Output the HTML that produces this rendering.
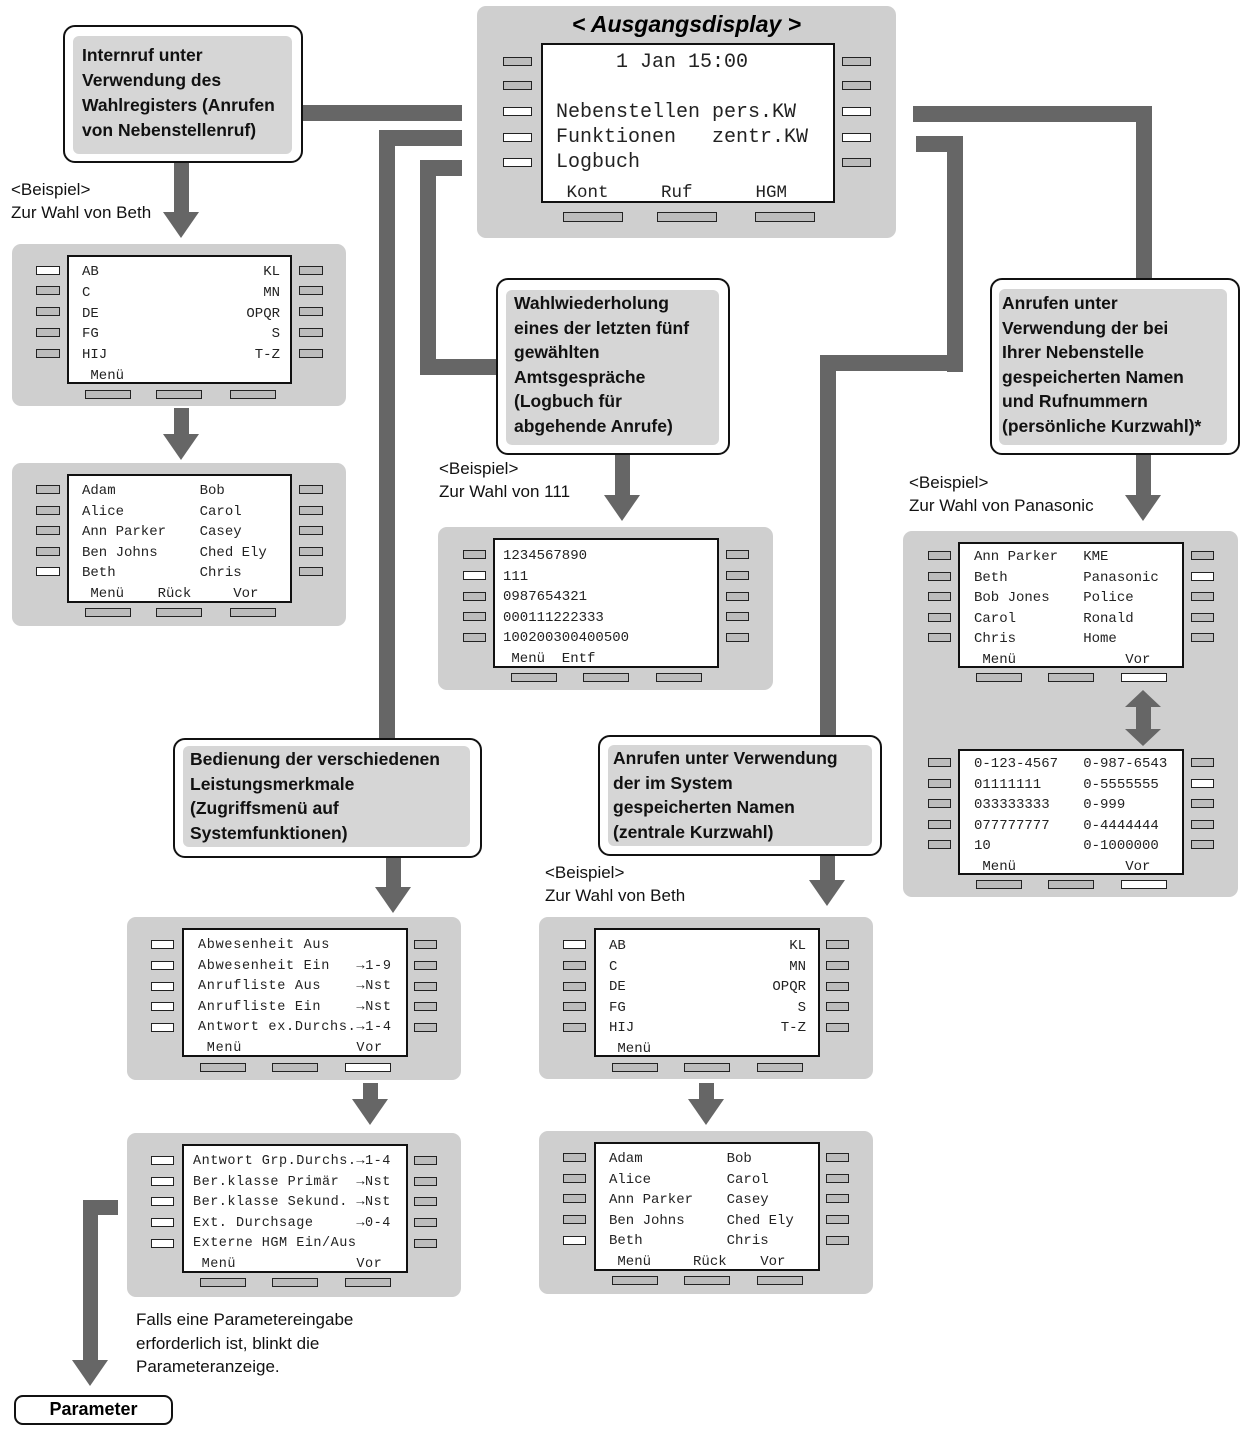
<!DOCTYPE html>
<html><head><meta charset="utf-8"><style>
body{margin:0;width:1245px;height:1440px;background:#fff;position:relative;overflow:hidden;font-family:"Liberation Sans",Arial,sans-serif}
div{position:absolute;box-sizing:border-box}
.c{background:#666}
.p{background:#cfcfcf;border-radius:9px}
.s{background:#fff;border:2px solid #111}
.b{height:9px;border:1.5px solid #222;background:#bcbcbc}
.w{background:#fff}
.t{font-family:"Liberation Mono","Courier New",monospace;font-size:14px;line-height:16px;white-space:pre;color:#222}
.ob{border:2px solid #111;border-radius:12px;background:#fff}
.ib{background:#d6d6d6;border-radius:6px}
.bt{font-weight:bold;font-size:17.5px;line-height:24.5px;color:#111;white-space:pre}
.lb{font-size:17px;line-height:23px;white-space:pre;color:#111}
.tri{width:0;height:0;border-left:18px solid transparent;border-right:18px solid transparent;border-top:26px solid #666}
</style></head><body>

<!-- connectors -->
<div class="c" style="left:302px;top:105px;width:160px;height:16px"></div>
<div class="c" style="left:379px;top:130px;width:83px;height:16px"></div>
<div class="c" style="left:379px;top:130px;width:16px;height:610px"></div>
<div class="c" style="left:420px;top:160px;width:42px;height:16px"></div>
<div class="c" style="left:420px;top:160px;width:16px;height:215px"></div>
<div class="c" style="left:420px;top:359px;width:78px;height:16px"></div>
<div class="c" style="left:913px;top:106px;width:239px;height:16px"></div>
<div class="c" style="left:1136px;top:106px;width:16px;height:172px"></div>
<div class="c" style="left:916px;top:136px;width:47px;height:16px"></div>
<div class="c" style="left:947px;top:136px;width:16px;height:236px"></div>
<div class="c" style="left:820px;top:355px;width:143px;height:16px"></div>
<div class="c" style="left:820px;top:355px;width:16px;height:382px"></div>

<!-- arrows -->
<div class="c" style="left:174px;top:163px;width:15px;height:50px"></div>
<div class="tri" style="left:163px;top:212px"></div>
<div class="c" style="left:174px;top:408px;width:15px;height:28px"></div>
<div class="tri" style="left:163px;top:434px"></div>
<div class="c" style="left:615px;top:455px;width:15px;height:42px"></div>
<div class="tri" style="left:604px;top:495px"></div>
<div class="c" style="left:1136px;top:455px;width:15px;height:42px"></div>
<div class="tri" style="left:1125px;top:495px"></div>
<div class="c" style="left:386px;top:857px;width:15px;height:32px"></div>
<div class="tri" style="left:375px;top:887px"></div>
<div class="c" style="left:363px;top:1083px;width:15px;height:18px"></div>
<div class="tri" style="left:352px;top:1099px"></div>
<div class="c" style="left:820px;top:855px;width:15px;height:26px"></div>
<div class="tri" style="left:809px;top:880px"></div>
<div class="c" style="left:699px;top:1083px;width:15px;height:18px"></div>
<div class="tri" style="left:688px;top:1099px"></div>
<div class="c" style="left:83px;top:1200px;width:35px;height:15px"></div>
<div class="c" style="left:83px;top:1200px;width:15px;height:162px"></div>
<div class="tri" style="left:72px;top:1360px"></div>

<!-- callout boxes -->
<div class="ob" style="left:63px;top:25px;width:240px;height:138px"></div>
<div class="ib" style="left:73px;top:36px;width:219px;height:118px"></div>
<div class="bt" style="left:82px;top:43px;line-height:25px">Internruf unter
Verwendung des
Wahlregisters (Anrufen
von Nebenstellenruf)</div>

<div class="ob" style="left:496px;top:278px;width:234px;height:177px"></div>
<div class="ib" style="left:506px;top:290px;width:213px;height:155px"></div>
<div class="bt" style="left:514px;top:291px">Wahlwiederholung
eines der letzten fünf
gewählten
Amtsgespräche
(Logbuch für
abgehende Anrufe)</div>

<div class="ob" style="left:990px;top:278px;width:250px;height:177px"></div>
<div class="ib" style="left:999px;top:289px;width:228px;height:156px"></div>
<div class="bt" style="left:1002px;top:291px">Anrufen unter
Verwendung der bei
Ihrer Nebenstelle
gespeicherten Namen
und Rufnummern
(persönliche Kurzwahl)*</div>

<div class="ob" style="left:173px;top:738px;width:309px;height:120px"></div>
<div class="ib" style="left:183px;top:746px;width:287px;height:101px"></div>
<div class="bt" style="left:190px;top:747px">Bedienung der verschiedenen
Leistungsmerkmale
(Zugriffsmenü auf
Systemfunktionen)</div>

<div class="ob" style="left:598px;top:735px;width:284px;height:121px"></div>
<div class="ib" style="left:608px;top:745px;width:264px;height:101px"></div>
<div class="bt" style="left:613px;top:746px">Anrufen unter Verwendung
der im System
gespeicherten Namen
(zentrale Kurzwahl)</div>

<div class="ob" style="left:14px;top:1395px;width:159px;height:30px;border-radius:9px"></div>
<div style="left:14px;top:1398px;width:159px;text-align:center;font-weight:bold;font-size:18px;line-height:22px">Parameter</div>

<!-- labels -->
<div class="lb" style="left:11px;top:178px">&lt;Beispiel&gt;
Zur Wahl von Beth</div>
<div class="lb" style="left:439px;top:457px">&lt;Beispiel&gt;
Zur Wahl von 111</div>
<div class="lb" style="left:909px;top:471px">&lt;Beispiel&gt;
Zur Wahl von Panasonic</div>
<div class="lb" style="left:545px;top:861px">&lt;Beispiel&gt;
Zur Wahl von Beth</div>
<div class="lb" style="left:136px;top:1308px;font-size:17px;line-height:23.5px">Falls eine Parametereingabe
erforderlich ist, blinkt die
Parameteranzeige.</div>

<!-- main display -->
<div class="p" style="left:477px;top:6px;width:419px;height:232px"></div>
<div style="left:477px;top:10px;width:419px;text-align:center;font-weight:bold;font-style:italic;font-size:23px;line-height:28px">&lt; Ausgangsdisplay &gt;</div>
<div class="s" style="left:541px;top:43px;width:294px;height:160px"></div>
<div class="b" style="left:503px;top:57px;width:29px"></div>
<div class="b" style="left:503px;top:81px;width:29px"></div>
<div class="b w" style="left:503px;top:107px;width:29px"></div>
<div class="b w" style="left:503px;top:133px;width:29px"></div>
<div class="b w" style="left:503px;top:158px;width:29px"></div>
<div class="b" style="left:842px;top:57px;width:29px"></div>
<div class="b" style="left:842px;top:81px;width:29px"></div>
<div class="b w" style="left:842px;top:107px;width:29px"></div>
<div class="b w" style="left:842px;top:133px;width:29px"></div>
<div class="b" style="left:842px;top:158px;width:29px"></div>
<div class="b" style="left:563px;top:212px;width:60px;height:10px"></div>
<div class="b" style="left:657px;top:212px;width:60px;height:10px"></div>
<div class="b" style="left:755px;top:212px;width:60px;height:10px"></div>
<div class="t" style="left:556px;top:50px;font-size:20px;line-height:25px">     1 Jan 15:00

Nebenstellen pers.KW
Funktionen   zentr.KW
Logbuch</div>
<div class="t" style="left:556px;top:182px;font-size:17.5px;line-height:22px"> Kont     Ruf      HGM</div>

<!-- P1 -->
<div class="p" style="left:12px;top:244px;width:334px;height:162px"></div>
<div class="s" style="left:67px;top:255px;width:225px;height:129px"></div>
<div class="b w" style="left:36px;top:266px;width:24px"></div>
<div class="b" style="left:36px;top:286px;width:24px"></div>
<div class="b" style="left:36px;top:307px;width:24px"></div>
<div class="b" style="left:36px;top:328px;width:24px"></div>
<div class="b" style="left:36px;top:349px;width:24px"></div>
<div class="b" style="left:299px;top:266px;width:24px"></div>
<div class="b" style="left:299px;top:286px;width:24px"></div>
<div class="b" style="left:299px;top:307px;width:24px"></div>
<div class="b" style="left:299px;top:328px;width:24px"></div>
<div class="b" style="left:299px;top:349px;width:24px"></div>
<div class="b" style="left:85px;top:390px;width:46px"></div>
<div class="b" style="left:156px;top:390px;width:46px"></div>
<div class="b" style="left:230px;top:390px;width:46px"></div>
<div class="t" style="left:82px;top:262px;line-height:20.75px">AB
C
DE
FG
HIJ
 Menü</div>
<div class="t" style="left:180px;top:262px;width:100px;text-align:right;line-height:20.75px">KL
MN
OPQR
S
T-Z</div>

<!-- P2 -->
<div class="p" style="left:12px;top:463px;width:334px;height:163px"></div>
<div class="s" style="left:67px;top:474px;width:225px;height:129px"></div>
<div class="b" style="left:36px;top:485px;width:24px"></div>
<div class="b" style="left:36px;top:506px;width:24px"></div>
<div class="b" style="left:36px;top:526px;width:24px"></div>
<div class="b" style="left:36px;top:547px;width:24px"></div>
<div class="b w" style="left:36px;top:567px;width:24px"></div>
<div class="b" style="left:299px;top:485px;width:24px"></div>
<div class="b" style="left:299px;top:506px;width:24px"></div>
<div class="b" style="left:299px;top:526px;width:24px"></div>
<div class="b" style="left:299px;top:547px;width:24px"></div>
<div class="b" style="left:299px;top:567px;width:24px"></div>
<div class="b" style="left:85px;top:608px;width:46px"></div>
<div class="b" style="left:156px;top:608px;width:46px"></div>
<div class="b" style="left:230px;top:608px;width:46px"></div>
<div class="t" style="left:82px;top:481px;line-height:20.6px">Adam          Bob
Alice         Carol
Ann Parker    Casey
Ben Johns     Ched Ely
Beth          Chris
 Menü    Rück     Vor</div>

<!-- P3 -->
<div class="p" style="left:438px;top:527px;width:335px;height:163px"></div>
<div class="s" style="left:493px;top:538px;width:226px;height:130px"></div>
<div class="b" style="left:463px;top:550px;width:23px"></div>
<div class="b w" style="left:463px;top:571px;width:23px"></div>
<div class="b" style="left:463px;top:592px;width:23px"></div>
<div class="b" style="left:463px;top:612px;width:23px"></div>
<div class="b" style="left:463px;top:633px;width:23px"></div>
<div class="b" style="left:726px;top:550px;width:23px"></div>
<div class="b" style="left:726px;top:571px;width:23px"></div>
<div class="b" style="left:726px;top:592px;width:23px"></div>
<div class="b" style="left:726px;top:612px;width:23px"></div>
<div class="b" style="left:726px;top:633px;width:23px"></div>
<div class="b" style="left:511px;top:673px;width:46px"></div>
<div class="b" style="left:583px;top:673px;width:46px"></div>
<div class="b" style="left:656px;top:673px;width:46px"></div>
<div class="t" style="left:503px;top:546px;line-height:20.6px">1234567890
111
0987654321
000111222333
100200300400500
 Menü  Entf</div>

<!-- P4 -->
<div class="p" style="left:903px;top:531px;width:335px;height:366px"></div>
<div class="s" style="left:958px;top:542px;width:226px;height:126px"></div>
<div class="b" style="left:928px;top:551px;width:23px"></div>
<div class="b" style="left:928px;top:572px;width:23px"></div>
<div class="b" style="left:928px;top:592px;width:23px"></div>
<div class="b" style="left:928px;top:613px;width:23px"></div>
<div class="b" style="left:928px;top:633px;width:23px"></div>
<div class="b" style="left:1191px;top:551px;width:23px"></div>
<div class="b w" style="left:1191px;top:572px;width:23px"></div>
<div class="b" style="left:1191px;top:592px;width:23px"></div>
<div class="b" style="left:1191px;top:613px;width:23px"></div>
<div class="b" style="left:1191px;top:633px;width:23px"></div>
<div class="b" style="left:976px;top:673px;width:46px"></div>
<div class="b" style="left:1048px;top:673px;width:46px"></div>
<div class="b w" style="left:1121px;top:673px;width:46px"></div>
<div class="t" style="left:974px;top:547px;line-height:20.6px">Ann Parker   KME
Beth         Panasonic
Bob Jones    Police
Carol        Ronald
Chris        Home
 Menü             Vor</div>
<div class="c" style="left:1136px;top:705px;width:15px;height:26px"></div>
<div style="left:1125px;top:690px;width:0;height:0;border-left:18px solid transparent;border-right:18px solid transparent;border-bottom:17px solid #666"></div>
<div style="left:1125px;top:729px;width:0;height:0;border-left:18px solid transparent;border-right:18px solid transparent;border-top:17px solid #666"></div>
<div class="s" style="left:958px;top:749px;width:226px;height:126px"></div>
<div class="b" style="left:928px;top:758px;width:23px"></div>
<div class="b" style="left:928px;top:779px;width:23px"></div>
<div class="b" style="left:928px;top:799px;width:23px"></div>
<div class="b" style="left:928px;top:820px;width:23px"></div>
<div class="b" style="left:928px;top:840px;width:23px"></div>
<div class="b" style="left:1191px;top:758px;width:23px"></div>
<div class="b w" style="left:1191px;top:779px;width:23px"></div>
<div class="b" style="left:1191px;top:799px;width:23px"></div>
<div class="b" style="left:1191px;top:820px;width:23px"></div>
<div class="b" style="left:1191px;top:840px;width:23px"></div>
<div class="b" style="left:976px;top:880px;width:46px"></div>
<div class="b" style="left:1048px;top:880px;width:46px"></div>
<div class="b w" style="left:1121px;top:880px;width:46px"></div>
<div class="t" style="left:974px;top:754px;line-height:20.6px">0-123-4567   0-987-6543
01111111     0-5555555
033333333    0-999
077777777    0-4444444
10           0-1000000
 Menü             Vor</div>

<!-- P5 -->
<div class="p" style="left:127px;top:917px;width:334px;height:163px"></div>
<div class="s" style="left:182px;top:928px;width:226px;height:129px"></div>
<div class="b w" style="left:151px;top:940px;width:23px"></div>
<div class="b w" style="left:151px;top:961px;width:23px"></div>
<div class="b w" style="left:151px;top:982px;width:23px"></div>
<div class="b w" style="left:151px;top:1002px;width:23px"></div>
<div class="b w" style="left:151px;top:1023px;width:23px"></div>
<div class="b" style="left:414px;top:940px;width:23px"></div>
<div class="b" style="left:414px;top:961px;width:23px"></div>
<div class="b" style="left:414px;top:982px;width:23px"></div>
<div class="b" style="left:414px;top:1002px;width:23px"></div>
<div class="b" style="left:414px;top:1023px;width:23px"></div>
<div class="b" style="left:200px;top:1063px;width:46px"></div>
<div class="b" style="left:272px;top:1063px;width:46px"></div>
<div class="b w" style="left:345px;top:1063px;width:46px"></div>
<div class="t" style="left:198px;top:936px;line-height:20.6px;font-size:13.5px;letter-spacing:0.7px">Abwesenheit Aus
Abwesenheit Ein   →1-9
Anrufliste Aus    →Nst
Anrufliste Ein    →Nst
Antwort ex.Durchs.→1-4
 Menü             Vor</div>

<!-- P6 -->
<div class="p" style="left:127px;top:1133px;width:334px;height:164px"></div>
<div class="s" style="left:182px;top:1144px;width:226px;height:129px"></div>
<div class="b w" style="left:151px;top:1156px;width:23px"></div>
<div class="b w" style="left:151px;top:1177px;width:23px"></div>
<div class="b w" style="left:151px;top:1197px;width:23px"></div>
<div class="b w" style="left:151px;top:1218px;width:23px"></div>
<div class="b w" style="left:151px;top:1239px;width:23px"></div>
<div class="b" style="left:414px;top:1156px;width:23px"></div>
<div class="b" style="left:414px;top:1177px;width:23px"></div>
<div class="b" style="left:414px;top:1197px;width:23px"></div>
<div class="b" style="left:414px;top:1218px;width:23px"></div>
<div class="b" style="left:414px;top:1239px;width:23px"></div>
<div class="b" style="left:200px;top:1278px;width:46px"></div>
<div class="b" style="left:272px;top:1278px;width:46px"></div>
<div class="b" style="left:345px;top:1278px;width:46px"></div>
<div class="t" style="left:193px;top:1152px;line-height:20.6px;font-size:13.5px;letter-spacing:0.5px">Antwort Grp.Durchs.→1-4
Ber.klasse Primär  →Nst
Ber.klasse Sekund. →Nst
Ext. Durchsage     →0-4
Externe HGM Ein/Aus
 Menü              Vor</div>

<!-- P7 -->
<div class="p" style="left:539px;top:917px;width:334px;height:162px"></div>
<div class="s" style="left:594px;top:928px;width:226px;height:129px"></div>
<div class="b w" style="left:563px;top:940px;width:23px"></div>
<div class="b" style="left:563px;top:961px;width:23px"></div>
<div class="b" style="left:563px;top:982px;width:23px"></div>
<div class="b" style="left:563px;top:1002px;width:23px"></div>
<div class="b" style="left:563px;top:1023px;width:23px"></div>
<div class="b" style="left:826px;top:940px;width:23px"></div>
<div class="b" style="left:826px;top:961px;width:23px"></div>
<div class="b" style="left:826px;top:982px;width:23px"></div>
<div class="b" style="left:826px;top:1002px;width:23px"></div>
<div class="b" style="left:826px;top:1023px;width:23px"></div>
<div class="b" style="left:612px;top:1063px;width:46px"></div>
<div class="b" style="left:684px;top:1063px;width:46px"></div>
<div class="b" style="left:757px;top:1063px;width:46px"></div>
<div class="t" style="left:609px;top:936px;line-height:20.6px">AB
C
DE
FG
HIJ
 Menü</div>
<div class="t" style="left:706px;top:936px;width:100px;text-align:right;line-height:20.6px">KL
MN
OPQR
S
T-Z</div>

<!-- P8 -->
<div class="p" style="left:539px;top:1131px;width:334px;height:163px"></div>
<div class="s" style="left:594px;top:1142px;width:226px;height:129px"></div>
<div class="b" style="left:563px;top:1153px;width:23px"></div>
<div class="b" style="left:563px;top:1174px;width:23px"></div>
<div class="b" style="left:563px;top:1194px;width:23px"></div>
<div class="b" style="left:563px;top:1215px;width:23px"></div>
<div class="b w" style="left:563px;top:1236px;width:23px"></div>
<div class="b" style="left:826px;top:1153px;width:23px"></div>
<div class="b" style="left:826px;top:1174px;width:23px"></div>
<div class="b" style="left:826px;top:1194px;width:23px"></div>
<div class="b" style="left:826px;top:1215px;width:23px"></div>
<div class="b" style="left:826px;top:1236px;width:23px"></div>
<div class="b" style="left:612px;top:1276px;width:46px"></div>
<div class="b" style="left:684px;top:1276px;width:46px"></div>
<div class="b" style="left:757px;top:1276px;width:46px"></div>
<div class="t" style="left:609px;top:1149px;line-height:20.6px">Adam          Bob
Alice         Carol
Ann Parker    Casey
Ben Johns     Ched Ely
Beth          Chris
 Menü     Rück    Vor</div>

</body></html>
